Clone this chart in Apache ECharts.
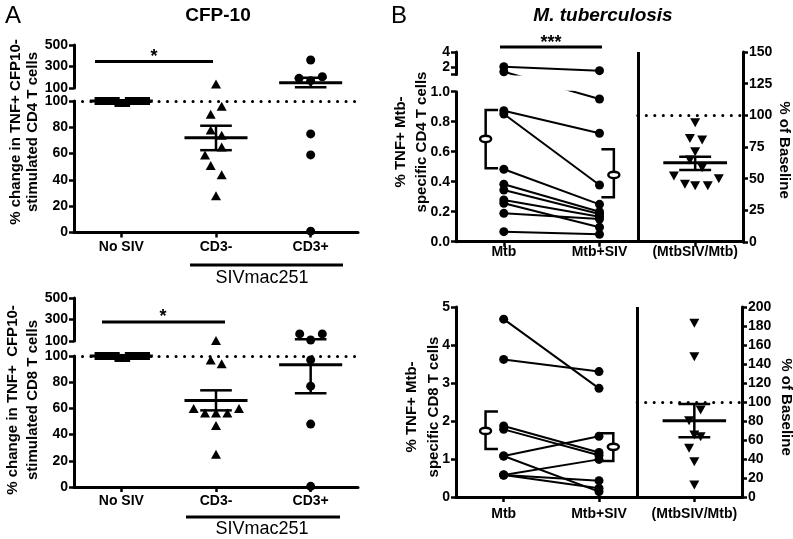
<!DOCTYPE html>
<html>
<head>
<meta charset="utf-8">
<script src="https://cdn.jsdelivr.net/npm/echarts@6.0.0/dist/echarts.min.js"></script>
<style>
html,body{margin:0;padding:0;background:#fff;}
#chart{width:793px;height:539px;}
</style>
</head>
<body>
<div id="chart"></div>
<script>
// ================= DATA =================
const catsA = ['No SIV', 'CD3-', 'CD3+'];
const catsB = ['Mtb', 'Mtb+SIV', '(MtbSIV/Mtb)'];

const ticksAUpper = [100, 300, 500];
const ticksALower = [0, 20, 40, 60, 80, 100];
const rangeBTopUpper = [1, 4];
const ticksBTopUpper = [2, 4];
const ticksBTopLower = [0, 0.2, 0.4, 0.6, 0.8, 1.0];
const ticksBTopRight = [0, 25, 50, 75, 100, 125, 150];
const ticksBBotLeft = [0, 1, 2, 3, 4, 5];
const ticksBBotRight = [0, 20, 40, 60, 80, 100, 120, 140, 160, 180, 200];

// Panel A - CD4 (% change)
const cd4NoSiv     = [100, 100, 100, 100, 98.5, 98.5, 100, 100, 100, 100];
const cd4NoSivJit  = [-0.23, -0.18, -0.12, -0.07, -0.02, 0.04, 0.09, 0.14, 0.2, 0.25];
const cd4Cd3neg    = [137, 96, 90, 78, 74, 65, 59, 51, 44, 28];
const cd4Cd3negJit = [0, 0.06, -0.056, -0.056, 0.06, 0.06, -0.116, -0.056, 0.06, 0];
const cd4Cd3pos    = [360, 190, 168, 205, 75, 59, 1];
const cd4Cd3posJit = [0, -0.123, 0, 0.123, 0, 0, 0];
const cd4Mean  = [100, 72, 149];
const cd4SemLo = [100, 62.6, 107];
const cd4SemHi = [100, 81.2, 196];

// Panel A - CD8 (% change)
const cd8NoSiv     = [100, 100, 100, 100, 98.5, 98.5, 100, 100, 100, 100];
const cd8NoSivJit  = [-0.23, -0.18, -0.12, -0.07, -0.02, 0.04, 0.09, 0.14, 0.2, 0.25];
const cd8Cd3neg    = [105, 97, 94, 60, 56.5, 56.5, 56.5, 60, 47, 25];
const cd8Cd3negJit = [0, -0.056, 0.06, -0.236, -0.116, 0, 0.12, 0.243, 0, 0];
const cd8Cd3pos    = [166, 166, 109, 97, 77, 48, 0.5];
const cd8Cd3posJit = [-0.116, 0.123, 0, 0, 0, 0, 0];
const cd8Mean  = [100, 66, 93.4];
const cd8SemLo = [100, 58.5, 71.5];
const cd8SemHi = [100, 73.8, 116];

// Panel B - CD4 (% TNF+ Mtb-specific)
const cd4Mtb    = [2.04, 1.37, 0.873, 0.851, 0.483, 0.383, 0.345, 0.278, 0.256, 0.189, 0.067];
const cd4MtbSiv = [1.51, 0.951, 0.723, 0.378, 0.249, 0.2, 0.185, 0.167, 0.096, 0.151, 0.049];
const cd4BMean = [0.685, 0.445];
const cd4BLo   = [0.489, 0.296];
const cd4BHi   = [0.878, 0.616];
const cd4Ratio    = [94.2, 81.8, 80.5, 71.3, 64.7, 58.7, 52.1, 45.5, 44.5, 44.5, 50];
const cd4RatioJit = [0, -0.055, 0.073, 0, -0.055, 0.073, -0.222, -0.107, 0, 0.132, 0.247];
const cd4RatioStats = [62.6, 56.8, 67.4]; // mean, lo, hi

// Panel B - CD8
const cd8Mtb    = [4.68, 3.62, 1.87, 1.78, 1.08, 1.08, 0.58, 0.58, 0.58];
const cd8MtbSiv = [2.86, 3.30, 1.17, 1.10, 1.60, 0.14, 0.99, 0.43, 0.23];
const cd8BMean = [1.74, 1.32];
const cd8BLo   = [1.26, 0.95];
const cd8BHi   = [2.25, 1.68];
const cd8Ratio    = [182.8, 147.7, 91.6, 80.3, 65.3, 63.5, 51.2, 37.2, 12.6];
const cd8RatioJit = [0, 0, 0.066, -0.055, 0, 0.066, -0.055, 0, 0];
const cd8RatioStats = [80.3, 62.8, 97.9];

// ================= STYLE / LAYOUT =================
const BLACK = '#000';
const FONT = '"Liberation Sans", Arial, Helvetica, sans-serif';
const LBL = {color: BLACK, fontFamily: FONT, fontWeight: 'bold', fontSize: 14};
const MEAN_HALF = 0.333, CAP_HALF = 0.167;
const BR_OFF = [-0.19, 0.15], BR_CAP = 0.13;
const DIVIDER_X = 1.4;
const SYM = {
  sq:  {symbol: 'rect', size: [10, 8], rotate: 0},
  tri: {symbol: 'triangle', size: [10, 9], rotate: 0},
  dot: {symbol: 'circle', size: 9, rotate: 0},
  inv: {symbol: 'triangle', size: [10, 9], rotate: 180}
};

const gridBase = {containLabel: false, outerBoundsMode: 'none', show: false};
const grids = [
  {left: 74, top: 45, width: 284, height: 43},      // 0 A top upper
  {left: 74, top: 101, width: 284, height: 131.5},  // 1 A top lower
  {left: 74, top: 298, width: 284, height: 43},     // 2 A bottom upper
  {left: 74, top: 356, width: 284, height: 131},    // 3 A bottom lower
  {left: 456, top: 52, width: 287, height: 22.5},   // 4 B top upper
  {left: 456, top: 91.7, width: 287, height: 150},  // 5 B top lower
  {left: 456, top: 52, width: 287, height: 190},    // 6 B top right
  {left: 456, top: 307, width: 286, height: 190}    // 7 B bottom
].map(g => Object.assign({}, gridBase, g));

const xMargins = [8, 8, 8, 7, 3, 3, 3, 10];
const xAxes = [];
grids.forEach((g, i) => {
  const showCat = (i === 1 || i === 3 || i === 5 || i === 7);
  xAxes.push({
    type: 'category', gridIndex: i, data: i < 4 ? catsA : catsB, boundaryGap: true, show: showCat,
    axisLine: {show: true, onZero: false, lineStyle: {color: BLACK, width: 3}},
    axisTick: {show: true, alignWithLabel: true, length: 5, lineStyle: {color: BLACK, width: 2.5}},
    axisLabel: Object.assign({}, LBL, {margin: xMargins[i], interval: 0}),
    splitLine: {show: false}
  });
  xAxes.push({type: 'value', gridIndex: i, min: -0.5, max: 2.5, show: false, splitLine: {show: false}});
});

function yAx(grid, ticks, extra) {
  return Object.assign({
    type: 'value', gridIndex: grid,
    min: ticks[0], max: ticks[ticks.length - 1], interval: ticks[1] - ticks[0],
    axisLine: {show: true, onZero: false, lineStyle: {color: BLACK, width: 3}},
    axisTick: {show: true, length: 5, lineStyle: {color: BLACK, width: 2.5}},
    axisLabel: Object.assign({}, LBL, {margin: 6}),
    splitLine: {show: false}
  }, extra || {});
}
const yAxes = [
  yAx(0, ticksAUpper),
  yAx(1, ticksALower),
  yAx(2, ticksAUpper),
  yAx(3, ticksALower),
  yAx(4, ticksBTopUpper, {
    min: rangeBTopUpper[0], max: rangeBTopUpper[1], interval: null,
    axisTick: {show: true, length: 5, lineStyle: {color: BLACK, width: 2.5}, customValues: [rangeBTopUpper[0]].concat(ticksBTopUpper)},
    axisLabel: Object.assign({}, LBL, {margin: 6, customValues: ticksBTopUpper})
  }),
  yAx(5, ticksBTopLower, {axisLabel: Object.assign({}, LBL, {margin: 6, formatter: v => v.toFixed(1)})}),
  yAx(6, ticksBTopRight, {position: 'right', axisLabel: Object.assign({}, LBL, {margin: 6})}),
  yAx(7, ticksBBotLeft),
  yAx(7, ticksBBotRight, {position: 'right', axisLabel: Object.assign({}, LBL, {margin: 6})})
];

// ================= SERIES HELPERS =================
function scatterS(g, yi, pts, s) {
  return {type: 'scatter', xAxisIndex: 2 * g + 1, yAxisIndex: yi, data: pts,
    symbol: s.symbol, symbolSize: s.size, symbolRotate: s.rotate,
    itemStyle: {color: BLACK, opacity: 1}, silent: true, z: 5, clip: true};
}
function errS(g, yi, data, isUpper) {
  return {type: 'custom', xAxisIndex: 2 * g + 1, yAxisIndex: yi, data: data, silent: true, z: 6,
    renderItem: function (params, api) {
      const cs = params.coordSys;
      const top = cs.y, bot = cs.y + cs.height;
      const inR = y => isUpper ? (y >= top - 0.5 && y < bot - 0.5) : (y >= top - 0.5 && y <= bot + 0.5);
      const cl = y => Math.max(top, Math.min(bot, y));
      const x = api.value(0);
      const pm = api.coord([x, api.value(1)]);
      const yl = api.coord([x, api.value(2)])[1];
      const yh = api.coord([x, api.value(3)])[1];
      const hw = api.size([MEAN_HALF, 0])[0];
      const cw = api.size([CAP_HALF, 0])[0];
      const cx = pm[0];
      const st = {stroke: BLACK, lineWidth: 2.5, fill: null};
      const ch = [];
      const a = cl(yh), b = cl(yl);
      if (b - a > 0.5) ch.push({type: 'line', shape: {x1: cx, y1: a, x2: cx, y2: b}, style: st});
      if (inR(pm[1])) ch.push({type: 'line', shape: {x1: cx - hw, y1: pm[1], x2: cx + hw, y2: pm[1]}, style: {stroke: BLACK, lineWidth: 3}});
      [yl, yh].forEach(y => { if (inR(y)) ch.push({type: 'line', shape: {x1: cx - cw, y1: y, x2: cx + cw, y2: y}, style: st}); });
      return {type: 'group', children: ch};
    }};
}
function bracketS(g, yi, data) {
  return {type: 'custom', xAxisIndex: 2 * g + 1, yAxisIndex: yi, data: data, silent: true, z: 7,
    renderItem: function (params, api) {
      const x = api.value(0), dir = api.value(4);
      const pm = api.coord([x, api.value(1)]);
      const yl = api.coord([x, api.value(2)])[1];
      const yh = api.coord([x, api.value(3)])[1];
      const cap = api.size([BR_CAP, 0])[0] * dir;
      const cx = pm[0];
      return {type: 'group', children: [
        {type: 'polyline', shape: {points: [[cx + cap, yh], [cx, yh], [cx, yl], [cx + cap, yl]]}, style: {stroke: BLACK, lineWidth: 2.5, fill: null}},
        {type: 'ellipse', shape: {cx: cx, cy: pm[1], rx: 5.5, ry: 3.2}, style: {fill: '#fff', stroke: BLACK, lineWidth: 2.5}}
      ]};
    }};
}
function lineS(id, g, yi, pts) {
  return {id: id, type: 'line', xAxisIndex: 2 * g + 1, yAxisIndex: yi, data: pts, showSymbol: false, symbol: 'none',
    lineStyle: {color: BLACK, width: 2}, clip: true, silent: true, z: 3};
}
const DOT_STYLE = {color: BLACK, width: 3, type: [0.1, 8.4], cap: 'round'};
function dotted100() {
  return {silent: true, symbol: 'none', label: {show: false}, lineStyle: DOT_STYLE, data: [{yAxis: 100}]};
}
function dividerAndDotted() {
  return {silent: true, symbol: 'none', label: {show: false},
    data: [
      {xAxis: DIVIDER_X, lineStyle: {color: BLACK, width: 3, type: 'solid'}},
      [{coord: [DIVIDER_X, 100], lineStyle: DOT_STYLE}, {coord: [2.5, 100]}]
    ]};
}

// ================= BUILD SERIES =================
const series = [];
function addPanelA(gUp, gLow, groups, mean, lo, hi) {
  groups.forEach((grp, ci) => {
    const pts = grp.vals.map((v, i) => [ci + grp.jit[i], v]);
    const sLow = scatterS(gLow, gLow, pts.filter(p => p[1] <= 100), grp.sym);
    if (ci === 0) sLow.markLine = dotted100();
    series.push(sLow);
    series.push(scatterS(gUp, gUp, pts.filter(p => p[1] > 100), grp.sym));
  });
  const ed = mean.map((m, i) => [i, m, lo[i], hi[i]]);
  series.push(errS(gLow, gLow, ed, false));
  series.push(errS(gUp, gUp, ed, true));
}
addPanelA(0, 1, [
  {vals: cd4NoSiv, jit: cd4NoSivJit, sym: SYM.sq},
  {vals: cd4Cd3neg, jit: cd4Cd3negJit, sym: SYM.tri},
  {vals: cd4Cd3pos, jit: cd4Cd3posJit, sym: SYM.dot}
], cd4Mean, cd4SemLo, cd4SemHi);
addPanelA(2, 3, [
  {vals: cd8NoSiv, jit: cd8NoSivJit, sym: SYM.sq},
  {vals: cd8Cd3neg, jit: cd8Cd3negJit, sym: SYM.tri},
  {vals: cd8Cd3pos, jit: cd8Cd3posJit, sym: SYM.dot}
], cd8Mean, cd8SemLo, cd8SemHi);

// B top
const BRK = rangeBTopUpper[0];
const btPts = cd4Mtb.map(v => [0, v]).concat(cd4MtbSiv.map(v => [1, v]));
series.push(scatterS(5, 5, btPts.filter(p => p[1] <= BRK), SYM.dot));
series.push(scatterS(4, 4, btPts.filter(p => p[1] > BRK), SYM.dot));
cd4Mtb.forEach((l, i) => {
  const r = cd4MtbSiv[i];
  if (Math.min(l, r) <= BRK) series.push(lineS('btLow' + i, 5, 5, [[0, l], [1, r]]));
  if (Math.max(l, r) > BRK) series.push(lineS('btUp' + i, 4, 4, [[0, l], [1, r]]));
});
series.push(bracketS(5, 5, [
  [0 + BR_OFF[0], cd4BMean[0], cd4BLo[0], cd4BHi[0], 1],
  [1 + BR_OFF[1], cd4BMean[1], cd4BLo[1], cd4BHi[1], -1]
]));
const btR = scatterS(6, 6, cd4Ratio.map((v, i) => [2 + cd4RatioJit[i], v]), SYM.inv);
btR.markLine = dividerAndDotted();
series.push(btR);
series.push(errS(6, 6, [[2, cd4RatioStats[0], cd4RatioStats[1], cd4RatioStats[2]]], false));

// B bottom
series.push(scatterS(7, 7, cd8Mtb.map(v => [0, v]).concat(cd8MtbSiv.map(v => [1, v])), SYM.dot));
cd8Mtb.forEach((l, i) => series.push(lineS('bb' + i, 7, 7, [[0, l], [1, cd8MtbSiv[i]]])));
series.push(bracketS(7, 7, [
  [0 + BR_OFF[0], cd8BMean[0], cd8BLo[0], cd8BHi[0], 1],
  [1 + BR_OFF[1], cd8BMean[1], cd8BLo[1], cd8BHi[1], -1]
]));
const bbR = scatterS(7, 8, cd8Ratio.map((v, i) => [2 + cd8RatioJit[i], v]), SYM.inv);
bbR.markLine = dividerAndDotted();
series.push(bbR);
series.push(errS(7, 8, [[2, cd8RatioStats[0], cd8RatioStats[1], cd8RatioStats[2]]], false));

// ================= ANNOTATIONS =================
function T(text, x, y, font, rot, extra) {
  return {type: 'text', x: x, y: y, rotation: rot || 0, silent: true, z: 10,
    style: Object.assign({text: text, font: font, fill: BLACK,
      align: 'center', verticalAlign: 'middle', textAlign: 'center', textVerticalAlign: 'middle'}, extra || {})};
}
function L(x1, y1, x2, y2, w) {
  return {type: 'line', silent: true, z: 10, shape: {x1: x1, y1: y1, x2: x2, y2: y2}, style: {stroke: BLACK, lineWidth: w || 3}};
}
const B15 = 'bold 15px ' + FONT;
const graphic = [
  T('A', 13, 16, 'normal 24px ' + FONT),
  T('CFP-10', 218, 16, 'bold 19px ' + FONT),
  T('B', 399, 16, 'normal 24px ' + FONT),
  T('M. tuberculosis', 603, 16, 'italic bold 19px ' + FONT),
  // significance
  L(95, 61.5, 213, 61.5), T('*', 154, 57, 'bold 18px ' + FONT),
  L(102, 322, 225, 322), T('*', 163, 317, 'bold 18px ' + FONT),
  L(500, 47, 602, 47), T('***', 551, 43, 'bold 18px ' + FONT),
  // SIVmac251 group labels
  L(190, 265, 343, 265), T('SIVmac251', 262, 278, 'normal 18px ' + FONT),
  L(186, 517, 340, 517), T('SIVmac251', 262, 529, 'normal 18px ' + FONT),
  // axis titles
  T('% change in TNF+ CFP10-\nstimulated CD4 T cells', 24.5, 132, B15, Math.PI / 2, {lineHeight: 17.5}),
  T('% change in TNF+  CFP10-\nstimulated CD8 T cells', 22.5, 400, B15, Math.PI / 2, {lineHeight: 20}),
  T('% TNF+ Mtb-\nspecific CD4 T cells', 411, 142, B15, Math.PI / 2, {lineHeight: 21}),
  T('% TNF+ Mtb-\nspecific CD8 T cells', 423, 407, B15, Math.PI / 2, {lineHeight: 22}),
  T('% of Baseline', 784, 150, B15, -Math.PI / 2),
  T('% of Baseline', 786, 407, B15, -Math.PI / 2)
];

const option = {
  animation: false,
  backgroundColor: '#fff',
  textStyle: {fontFamily: FONT},
  grid: grids,
  xAxis: xAxes,
  yAxis: yAxes,
  series: series,
  graphic: graphic
};

const chart = echarts.init(document.getElementById('chart'), null, {renderer: 'canvas'});
chart.setOption(option);

// Lines crossing the broken axis are straight in screen space: re-express each
// out-of-segment endpoint in the other segment's scale via the library's axes.
try {
  const up2low = v => chart.convertFromPixel({yAxisIndex: 5}, chart.convertToPixel({yAxisIndex: 4}, v));
  const low2up = v => chart.convertFromPixel({yAxisIndex: 4}, chart.convertToPixel({yAxisIndex: 5}, v));
  const upd = [];
  cd4Mtb.forEach((l, i) => {
    const r = cd4MtbSiv[i];
    if (Math.min(l, r) <= BRK) upd.push({id: 'btLow' + i, data: [[0, l > BRK ? up2low(l) : l], [1, r > BRK ? up2low(r) : r]]});
    if (Math.max(l, r) > BRK) upd.push({id: 'btUp' + i, data: [[0, l <= BRK ? low2up(l) : l], [1, r <= BRK ? low2up(r) : r]]});
  });
  const ok = upd.every(u => u.data.every(p => isFinite(p[1])));
  if (ok) chart.setOption({series: upd});
} catch (e) { /* keep straight per-segment lines */ }
</script>
</body>
</html>
